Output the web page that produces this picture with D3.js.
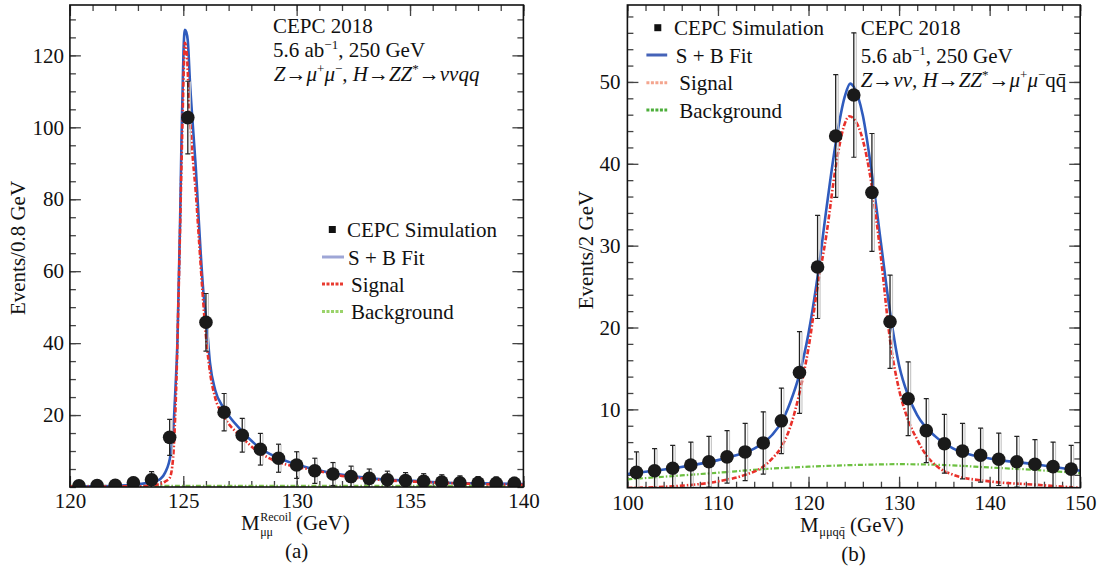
<!DOCTYPE html>
<html><head><meta charset="utf-8">
<script src="https://cdn.jsdelivr.net/npm/d3@7"></script>
<style>
body{margin:0;background:#fff}
text{font-family:"Liberation Serif","Times New Roman",serif;fill:#111}
</style>
</head><body>
<svg id="c" width="1102" height="570"></svg>
<script>
// ---------------- Panel (a) data ----------------
const leftBinCenters = [120.4,121.2,122.0,122.8,123.6,124.4,125.2,126.0,126.8,127.6,128.4,129.2,130.0,130.8,131.6,132.4,133.2,134.0,134.8,135.6,136.4,137.2,138.0,138.8,139.6];
const leftCounts = [0.3,0.4,0.5,1.2,2.0,13.8,102.7,45.8,20.8,14.4,10.5,8.0,6.1,4.5,3.6,2.9,2.4,2.0,1.8,1.6,1.4,1.2,1.1,1.0,1.0];
const leftErrors = [0.8,0.9,1.0,1.5,2.3,5.0,10.1,8.0,5.2,4.7,4.4,3.9,3.7,3.5,3.2,2.9,2.6,2.4,2.2,2.1,2.0,1.9,1.8,1.8,1.7];
const leftFitX = [120,121,122,122.8,123.3,123.6,123.85,124.0,124.2,124.44,124.59,124.66,124.74,124.8,124.86,124.92,124.97,125.01,125.07,125.13,125.2,125.3,125.45,125.55,125.65,125.77,125.88,126.03,126.18,126.41,126.79,127.55,128.31,129.07,129.83,130.59,132.1,133.63,135.14,136.67,138.18,140];
const leftFitY = [0.15,0.2,0.35,0.6,1.0,1.4,1.8,2.3,4,9,19,28,40,57,74,96,110,121,127.1,126.5,124,112,98,89,77.9,64.9,54.7,45.5,34.4,26.9,21.9,15.8,11.2,8.4,6.6,5.2,3.3,2.2,1.7,1.2,1.0,0.8];
const leftSigX = [120,123,123.8,124.2,124.4,124.55,124.62,124.7,124.78,124.86,124.93,124.99,125.03,125.07,125.15,125.25,125.4,125.55,125.7,125.85,126.0,126.2,126.4,126.8,127.55,128.31,129.07,129.83,130.59,132.1,133.63,135.14,136.67,138.18,140];
const leftSigY = [0.1,0.2,0.6,1.5,2.5,8,16,30,50,72,92,108,118,123.5,121,108,93,82,68,54,42,31,25,19.5,14,9.8,7.2,5.8,4.9,3.0,2.0,1.5,1.1,0.8,0.6];
const leftBkgX = [120,130,140];
const leftBkgY = [0.3,0.3,0.3];
const leftXTicks = [120,125,130,135,140];
const leftYTicks = [20,40,60,80,100,120];

// ---------------- Panel (b) data ----------------
const rightBinCenters = [101,103,105,107,109,111,113,115,117,119,121,123,125,127,129,131,133,135,137,139,141,143,145,147,149];
const rightCounts = [2.3,2.5,2.8,3.2,3.6,4.2,4.8,5.9,8.6,14.5,27.4,43.4,48.4,36.5,20.7,11.3,7.4,5.8,4.9,4.4,3.9,3.6,3.3,3.0,2.7];
const rightErrors = [2.5,2.7,2.8,2.8,3.1,3.2,3.5,3.8,4.0,5.0,6.3,7.5,7.6,7.2,5.7,4.5,3.9,3.6,3.4,3.3,3.2,3.1,3.0,3.0,2.9];
const rightFitX = [100,105,110,112,114,116,117,118,119,120,121,122,123,124,124.6,125,126,127,128,129,130,131,132,134,136,140,145,150];
const rightFitY = [2.1,2.8,3.8,4.4,5.2,6.9,8.4,10.9,14.3,19.3,26.2,34.7,42.5,48.2,49.8,49.4,45.9,38.8,30.3,21.9,15.4,11.7,9.3,6.7,5.2,4.0,3.3,2.5];
const rightSigX = [100,105,110,113,115,116,117,118,119,120,121,122,123,124,124.5,125,126,127,128,129,130,131,132,133,134,136,140,145,150];
const rightSigY = [0.4,0.6,1.2,2.0,3.0,4.0,5.4,7.9,12.0,17.5,25.0,31.5,39.6,44.9,45.8,45.5,42.9,37.2,28.5,18.5,12.4,8.7,6.3,4.4,3.2,2.0,1.2,0.8,0.4];
const rightBkgX = [100,105,110,115,120,125,130,135,140,145,150];
const rightBkgY = [1.45,1.85,2.26,2.7,3.0,3.2,3.3,3.2,2.9,2.6,2.2];
const rightXTicks = [100,110,120,130,140,150];
const rightYTicks = [10,20,30,40,50];

const svg = d3.select("#c");
const FS = 21;

function richText(g, x, y, segs, anchor) {
  const t = g.append("text").attr("x", x).attr("y", y).attr("font-size", FS);
  if (anchor) t.attr("text-anchor", anchor);
  let off = 0;
  segs.forEach(s => {
    const ts = t.append("tspan").text(s.t);
    let target = 0, size = FS;
    if (s.sup) { target = -8; size = 13; }
    if (s.sub) { target = 5; size = 13; }
    ts.attr("font-size", size).attr("dy", target - off);
    off = target;
    if (s.i) ts.attr("font-style", "italic");
  });
  return t;
}

function panel(cfg) {
  const g = svg.append("g");
  const x = d3.scaleLinear().domain(cfg.xDom).range([cfg.x0, cfg.x1]);
  const y = d3.scaleLinear().domain(cfg.yDom).range([cfg.y1, cfg.y0]);
  const clipId = "clip" + cfg.id;
  svg.append("clipPath").attr("id", clipId).append("rect")
    .attr("x", cfg.x0).attr("y", cfg.y0).attr("width", cfg.x1 - cfg.x0).attr("height", cfg.y1 - cfg.y0);

  // axes (ticks inside)
  const tickCol = "#444";
  const xMinor = d3.range(cfg.xDom[0], cfg.xDom[1] + 1e-9, cfg.xMinorStep);
  const yMinor = d3.range(Math.ceil(cfg.yDom[0] / cfg.yMinorStep) * cfg.yMinorStep, cfg.yDom[1], cfg.yMinorStep);
  const addAxis = (axis, tr) => {
    const a = g.append("g").attr("transform", tr).call(axis);
    a.select(".domain").remove();
    a.selectAll("line").attr("stroke", tickCol).attr("stroke-width", 1.3);
    a.selectAll("text").attr("font-size", FS).attr("fill", "#111")
      .attr("font-family", "Liberation Serif, Times New Roman, serif");
    return a;
  };
  addAxis(d3.axisBottom(x).tickValues(xMinor).tickSize(-6).tickFormat(""), `translate(0,${cfg.y1})`);
  addAxis(d3.axisBottom(x).tickValues(cfg.xTicks).tickSize(-11).tickPadding(cfg.xPad).tickFormat(d3.format("d")), `translate(0,${cfg.y1})`);
  addAxis(d3.axisTop(x).tickValues(xMinor).tickSize(-6).tickFormat(""), `translate(0,${cfg.y0})`);
  addAxis(d3.axisTop(x).tickValues(cfg.xTicks).tickSize(-11).tickFormat(""), `translate(0,${cfg.y0})`);
  addAxis(d3.axisLeft(y).tickValues(yMinor).tickSize(-6).tickFormat(""), `translate(${cfg.x0},0)`);
  addAxis(d3.axisLeft(y).tickValues(cfg.yTicks).tickSize(-11).tickPadding(cfg.yPad).tickFormat(d3.format("d")), `translate(${cfg.x0},0)`);
  addAxis(d3.axisRight(y).tickValues(yMinor).tickSize(-6).tickFormat(""), `translate(${cfg.x1},0)`);
  addAxis(d3.axisRight(y).tickValues(cfg.yTicks).tickSize(-11).tickFormat(""), `translate(${cfg.x1},0)`);

  const plot = g.append("g").attr("clip-path", `url(#${clipId})`);
  const line = d3.line().x(d => x(d[0])).y(d => y(d[1])).curve(d3.curveMonotoneX);
  const zip = (a, b) => a.map((v, i) => [v, b[i]]);

  plot.append("path").attr("d", line(zip(cfg.bkgX, cfg.bkgY))).attr("fill", "none")
    .attr("stroke", cfg.bkgCol).attr("stroke-width", 2.2).attr("stroke-dasharray", "5,2,1.5,2");
  plot.append("path").attr("d", line(zip(cfg.fitX, cfg.fitY))).attr("fill", "none")
    .attr("stroke", "#2f5bbd").attr("stroke-width", 2.6);
  plot.append("path").attr("d", line(zip(cfg.sigX, cfg.sigY))).attr("fill", "none")
    .attr("stroke", "#e8302a").attr("stroke-width", 2.6).attr("stroke-dasharray", "5,2,1.5,2");

  // error bars + points
  const pts = cfg.bins.map((b, i) => ({x: b, v: cfg.counts[i], e: cfg.errors[i]}));
  const eb = plot.append("g");
  pts.forEach(p => {
    eb.append("line").attr("x1", x(p.x) + 2.5).attr("x2", x(p.x) + 2.5)
      .attr("y1", y(p.v - p.e)).attr("y2", y(p.v + p.e)).attr("stroke", "#c8c8c8").attr("stroke-width", 1.2);
    eb.append("line").attr("x1", x(p.x)).attr("x2", x(p.x))
      .attr("y1", y(p.v - p.e)).attr("y2", y(p.v + p.e)).attr("stroke", "#222").attr("stroke-width", 1.3);
    [p.v - p.e, p.v + p.e].forEach(v => eb.append("line").attr("x1", x(p.x) - 2.5).attr("x2", x(p.x) + 2.5)
      .attr("y1", y(v)).attr("y2", y(v)).attr("stroke", "#222").attr("stroke-width", 1.2));
  });
  plot.append("g").selectAll("circle").data(pts).join("circle")
    .attr("cx", d => x(d.x)).attr("cy", d => y(d.v)).attr("r", 6.8).attr("fill", "#1a1a1a");

  // frame
  g.append("rect").attr("x", cfg.x0).attr("y", cfg.y0).attr("width", cfg.x1 - cfg.x0).attr("height", cfg.y1 - cfg.y0)
    .attr("fill", "none").attr("stroke", "#111").attr("stroke-width", 1.6);

  // y title
  g.append("text").attr("transform", `translate(${cfg.yTitleX},${cfg.yTitleY}) rotate(-90)`)
    .attr("text-anchor", "middle").attr("font-size", FS).text(cfg.yTitle);

  // legend
  const L = cfg.legend;
  g.append("rect").attr("x", L.mx - 3.5).attr("y", L.rows[0] - 3.5).attr("width", 7).attr("height", 7).attr("fill", "#111");
  g.append("line").attr("x1", L.lx0).attr("x2", L.lx1).attr("y1", L.rows[1]).attr("y2", L.rows[1])
    .attr("stroke", L.fitCol).attr("stroke-width", 3);
  g.append("line").attr("x1", L.lx0).attr("x2", L.lx1).attr("y1", L.rows[2]).attr("y2", L.rows[2])
    .attr("stroke", L.sigCol).attr("stroke-width", 3).attr("stroke-dasharray", "3,1.5");
  g.append("line").attr("x1", L.lx0).attr("x2", L.lx1).attr("y1", L.rows[3]).attr("y2", L.rows[3])
    .attr("stroke", L.bkgCol).attr("stroke-width", 3).attr("stroke-dasharray", "3,1.5");
  const labels = ["CEPC Simulation", "S + B Fit", "Signal", "Background"];
  labels.forEach((t, i) => g.append("text").attr("x", L.tx[i]).attr("y", L.rows[i] + 7.5).attr("font-size", FS).text(t));
  return {g, x, y};
}

// ---------- panel (a) ----------
const A = panel({
  id: "a", xDom: [120, 140], yDom: [0, 134], x0: 69.9, x1: 523.4, y0: 5, y1: 487,
  xTicks: leftXTicks, yTicks: leftYTicks, xMinorStep: 1, yMinorStep: 5, xPad: 6, yPad: 6,
  bins: leftBinCenters, counts: leftCounts, errors: leftErrors,
  fitX: leftFitX, fitY: leftFitY, sigX: leftSigX, sigY: leftSigY, bkgX: leftBkgX, bkgY: leftBkgY,
  bkgCol: "#7cc04a",
  yTitle: "Events/0.8 GeV", yTitleX: 25, yTitleY: 248,
  legend: {mx: 332.3, lx0: 322, lx1: 344, rows: [229.5, 257, 284, 311.5], tx: [347, 348, 351, 351],
           fitCol: "#9ea6d6", sigCol: "#e83a30", bkgCol: "#9ad36a"}
});
richText(A.g, 273, 33.3, [{t: "CEPC 2018"}]);
richText(A.g, 273, 56.6, [{t: "5.6 ab"}, {t: "−1", sup: 1}, {t: ", 250 GeV"}]);
richText(A.g, 273.8, 80.8, [{t: "Z→μ", i: 1}, {t: "+", sup: 1}, {t: "μ", i: 1}, {t: "−", sup: 1}, {t: ", H→ZZ", i: 1}, {t: "*", sup: 1}, {t: "→ννqq", i: 1}]);
// x title (a)
(function () {
  const g = A.g;
  const m = g.append("text").attr("x", 241).attr("y", 530).attr("font-size", FS).text("M");
  const mw = m.node().getComputedTextLength();
  const sx = 241 + mw + 0.5;
  const sup = g.append("text").attr("x", sx).attr("y", 520.5).attr("font-size", 12).text("Recoil");
  g.append("text").attr("x", sx).attr("y", 535.5).attr("font-size", 12).text("μμ");
  const sw = sup.node().getComputedTextLength();
  g.append("text").attr("x", sx + sw + 4.5).attr("y", 530).attr("font-size", FS).text("(GeV)");
  g.append("text").attr("x", 296.6).attr("y", 558.3).attr("text-anchor", "middle").attr("font-size", FS).text("(a)");
})();

// ---------- panel (b) ----------
const B = panel({
  id: "b", xDom: [100, 150], yDom: [0.43, 59.4], x0: 627.4, x1: 1080.2, y0: 5, y1: 487.7,
  xTicks: rightXTicks, yTicks: rightYTicks, xMinorStep: 2, yMinorStep: 2, xPad: 7, yPad: 7,
  bins: rightBinCenters, counts: rightCounts, errors: rightErrors,
  fitX: rightFitX, fitY: rightFitY, sigX: rightSigX, sigY: rightSigY, bkgX: rightBkgX, bkgY: rightBkgY,
  bkgCol: "#6cc040",
  yTitle: "Events/2 GeV", yTitleX: 593, yTitleY: 250,
  legend: {mx: 657.8, lx0: 646.4, lx1: 667.2, rows: [27.7, 55, 82.7, 110], tx: [674, 675.8, 679.3, 679.3],
           fitCol: "#4563b8", sigCol: "#f4a58e", bkgCol: "#4cae3a"}
});
richText(B.g, 860.7, 35, [{t: "CEPC 2018"}]);
richText(B.g, 860.7, 63.3, [{t: "5.6 ab"}, {t: "−1", sup: 1}, {t: ", 250 GeV"}]);
richText(B.g, 860.7, 86.7, [{t: "Z→νν, H→ZZ", i: 1}, {t: "*", sup: 1}, {t: "→μ", i: 1}, {t: "+", sup: 1}, {t: "μ", i: 1}, {t: "−", sup: 1}, {t: "qq\u0304"}]);
(function () {
  const g = B.g;
  const m = g.append("text").attr("x", 800).attr("y", 531.7).attr("font-size", FS).text("M");
  const mw = m.node().getComputedTextLength();
  const sub = g.append("text").attr("x", 800 + mw + 0.5).attr("y", 535.5).attr("font-size", 12.5).text("μμqq\u0304");
  const sw = sub.node().getComputedTextLength();
  g.append("text").attr("x", 800 + mw + sw + 5.5).attr("y", 531.7).attr("font-size", FS).text("(GeV)");
  g.append("text").attr("x", 853.5).attr("y", 561).attr("text-anchor", "middle").attr("font-size", FS).text("(b)");
})();
</script>
</body></html>
